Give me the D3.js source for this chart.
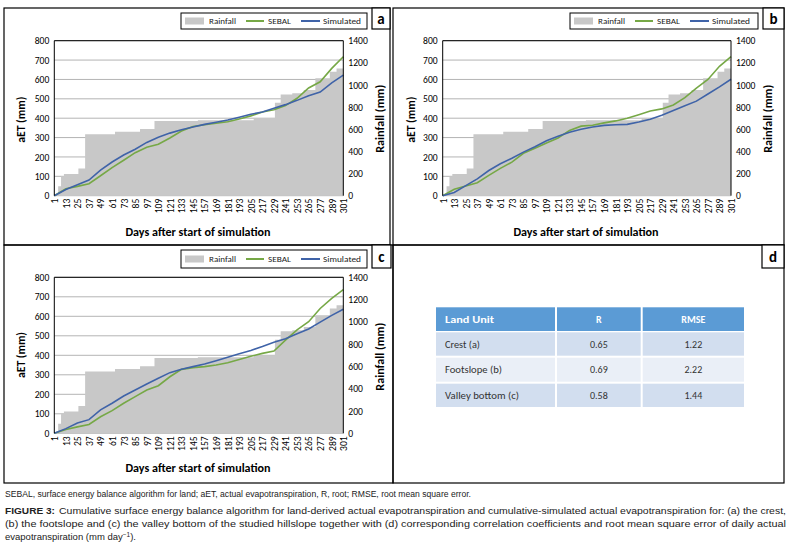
<!DOCTYPE html>
<html><head><meta charset="utf-8">
<script src="https://cdn.jsdelivr.net/npm/d3@7/dist/d3.min.js"></script>
<style>body{margin:0;background:#fff} svg{display:block}</style>
</head><body><svg id="fig" width="792" height="547"></svg>
<script>
// ---------- data ----------
const dayTicks = [1,13,25,37,49,61,73,85,97,109,121,133,145,157,169,181,193,205,217,229,241,253,265,277,289,301];
const sampleDays = dayTicks;
const aetTicks = [0,100,200,300,400,500,600,700,800];
const rainTicks = [0,200,400,600,800,1000,1200,1400];

// cumulative rainfall (mm), step changes: day -> cumulative total from that day
const rainDays = [1,5,8,11,26,33,64,90,105,150,208,230,236,248,260,272,287,294,301];
const rainCum  = [0,85,175,195,245,555,578,602,675,682,700,840,915,925,955,1060,1120,1150,1150];

// cumulative aET (mm) at sampleDays
const sebalA = [0,36,48,62,103,145,183,222,250,266,298,334,357,366,374,382,396,412,432,444,465,503,556,588,657,717];
const simA   = [0,32,57,81,132,174,210,240,275,302,323,340,355,368,379,391,405,420,432,451,470,492,516,535,582,622];
const sebalB = [0,33,50,67,105,141,173,219,245,272,298,337,359,364,376,386,400,418,437,448,468,506,555,600,668,718];
const simB   = [0,17,52,87,130,165,193,225,253,284,307,328,343,355,363,366,368,380,395,415,440,464,488,525,562,601];
const sebalC = [0,20,33,45,85,116,154,188,222,244,290,328,337,342,350,362,378,395,410,422,478,530,572,640,692,737];
const simC   = [0,24,53,70,120,154,191,222,253,282,311,328,342,355,372,390,408,425,445,467,485,510,535,570,605,636];

const legendLabels = ["Rainfall","SEBAL","Simulated"];
const tableHeader = ["Land Unit","R","RMSE"];
const landUnits = ["Crest (a)","Footslope (b)","Valley bottom (c)"];
const rValues = ["0.65","0.69","0.58"];
const rmseValues = ["1.22","2.22","1.44"];

// ---------- drawing ----------
const svg = d3.select("#fig");
svg.append("rect").attr("width",792).attr("height",547).attr("fill","#fff");
const FONT = "Carlito, Calibri, 'Liberation Sans', Arial, sans-serif";
const GRAY = "#c8c8c8", GREEN = "#76a846", BLUE = "#3f63a8";

function fit(sel, w){ sel.attr("textLength", w).attr("lengthAdjust","spacingAndGlyphs"); return sel; }

const panels = [
  {id:"a", box:[4,8,390,245], plot:[54.3,343.3,40.7,195.7], leg:[181,13,367,29], lab:[372,8,390,29],
   yT:[21,119.7], y2T:[380,118.8], xT:[198,236], sebal:sebalA, sim:simA},
  {id:"b", box:[393,8,784,245], plot:[442.7,731,40.7,195.7], leg:[570,13,758,29], lab:[763,8,784,29],
   yT:[411,119.7], y2T:[767.7,118.8], xT:[586,236], sebal:sebalB, sim:simB},
  {id:"c", box:[4,245,393,483], plot:[54.3,343.3,277.3,433.3], leg:[181,250,367,268], lab:[372,245,391,268],
   yT:[21,355], y2T:[380,356.7], xT:[198,472], sebal:sebalC, sim:simC}
];

const rainData = rainDays.map((d,i)=>({day:d, v:rainCum[i]}));

panels.forEach(p=>{
  const g = svg.append("g");
  const [pl,pr,pt,pb] = p.plot;
  g.append("rect").attr("x",p.box[0]).attr("y",p.box[1]).attr("width",p.box[2]-p.box[0]).attr("height",p.box[3]-p.box[1])
    .attr("fill","none").attr("stroke","#000").attr("stroke-width",1.2);

  const x = d3.scaleLinear().domain([1,301]).range([pl,pr]);
  const y = d3.scaleLinear().domain([0,800]).range([pb,pt]);
  const y2 = d3.scaleLinear().domain([0,1400]).range([pb,pt]);

  // gridlines
  g.append("g").selectAll("line").data(aetTicks).join("line")
    .attr("x1",pl).attr("x2",pr).attr("y1",d=>y(d)).attr("y2",d=>y(d))
    .attr("stroke","#b4b4b4").attr("stroke-width",1);

  // rainfall area
  g.append("path").datum(rainData)
    .attr("d", d3.area().x(d=>x(d.day)).y0(pb).y1(d=>y2(d.v)).curve(d3.curveStepAfter))
    .attr("fill",GRAY);

  // lines
  const line = d3.line().x((d,i)=>x(sampleDays[i])).y(d=>y(d));
  g.append("path").datum(p.sebal).attr("d",line).attr("fill","none").attr("stroke",GREEN).attr("stroke-width",1.6);
  g.append("path").datum(p.sim).attr("d",line).attr("fill","none").attr("stroke",BLUE).attr("stroke-width",1.6);

  // frame lines
  g.append("line").attr("x1",pl).attr("x2",pr).attr("y1",pt).attr("y2",pt).attr("stroke","#000").attr("stroke-width",1);
  g.append("line").attr("x1",pl).attr("x2",pl).attr("y1",pt).attr("y2",pb).attr("stroke","#000").attr("stroke-width",1);
  g.append("line").attr("x1",pr).attr("x2",pr).attr("y1",pt).attr("y2",pb).attr("stroke","#000").attr("stroke-width",1);

  // axes
  const ax = g.append("g").attr("transform",`translate(${pl},0)`)
    .call(d3.axisLeft(y).tickValues(aetTicks).tickSize(0).tickPadding(5).tickFormat(d3.format("d")));
  const ax2 = g.append("g").attr("transform",`translate(${pr},0)`)
    .call(d3.axisRight(y2).tickValues(rainTicks).tickSize(0).tickPadding(5).tickFormat(d3.format("d")));
  const axX = g.append("g").attr("transform",`translate(0,${pb})`)
    .call(d3.axisBottom(x).tickValues(dayTicks).tickSize(0).tickFormat(d3.format("d")));
  [ax,ax2,axX].forEach(a=>{a.select(".domain").remove(); a.selectAll("text").attr("font-family",FONT).attr("font-size",9.6).attr("fill","#000");});
  axX.selectAll("text").attr("y",0).attr("x",-3).attr("dy","0.35em").attr("transform","rotate(-90)").style("text-anchor","end");

  // axis titles
  fit(g.append("text").attr("transform",`translate(${p.yT[0]},${p.yT[1]}) rotate(-90)`).attr("text-anchor","middle")
    .attr("dominant-baseline","central").attr("font-family",FONT).attr("font-weight","bold").attr("font-size",12).text("aET (mm)"),46);
  fit(g.append("text").attr("transform",`translate(${p.y2T[0]},${p.y2T[1]}) rotate(-90)`).attr("text-anchor","middle")
    .attr("dominant-baseline","central").attr("font-family",FONT).attr("font-weight","bold").attr("font-size",12).text("Rainfall (mm)"),68);
  fit(g.append("text").attr("x",p.xT[0]).attr("y",p.xT[1]).attr("text-anchor","middle")
    .attr("font-family",FONT).attr("font-weight","bold").attr("font-size",12).text("Days after start of simulation"),145);

  // legend
  const [lx0,ly0,lx1,ly1] = p.leg; const lc = (ly0+ly1)/2;
  g.append("rect").attr("x",lx0).attr("y",ly0).attr("width",lx1-lx0).attr("height",ly1-ly0).attr("fill","#fff").attr("stroke","#000").attr("stroke-width",1);
  g.append("rect").attr("x",lx0+4).attr("y",lc-3.5).attr("width",19).attr("height",7).attr("fill",GRAY);
  g.append("line").attr("x1",lx0+65).attr("x2",lx0+83).attr("y1",lc).attr("y2",lc).attr("stroke",GREEN).attr("stroke-width",2);
  g.append("line").attr("x1",lx0+120).attr("x2",lx0+139).attr("y1",lc).attr("y2",lc).attr("stroke",BLUE).attr("stroke-width",2);
  const lt = [[lx0+28,27],[lx0+87,23],[lx0+142,38]];
  legendLabels.forEach((t,i)=>{
    fit(g.append("text").attr("x",lt[i][0]).attr("y",lc+3).attr("font-family",FONT).attr("font-size",8.5).attr("fill","#222").text(t), lt[i][1]);
  });

  // panel letter box
  const [bx0,by0,bx1,by1] = p.lab;
  g.append("rect").attr("x",bx0).attr("y",by0).attr("width",bx1-bx0).attr("height",by1-by0).attr("fill","#fff").attr("stroke","#000").attr("stroke-width",1.2);
  g.append("text").attr("x",(bx0+bx1)/2).attr("y",(by0+by1)/2+5).attr("text-anchor","middle").attr("font-family",FONT)
    .attr("font-weight","bold").attr("font-size",15).text(p.id);
});

// panel d
const gd = svg.append("g");
gd.append("rect").attr("x",393).attr("y",245).attr("width",391).attr("height",238).attr("fill","none").attr("stroke","#000").attr("stroke-width",1.2);
gd.append("rect").attr("x",762).attr("y",245).attr("width",22).attr("height",23).attr("fill","#fff").attr("stroke","#000").attr("stroke-width",1.2);
gd.append("text").attr("x",773).attr("y",261.5).attr("text-anchor","middle").attr("font-family",FONT).attr("font-weight","bold").attr("font-size",15).text("d");

const colX = [[436,555],[557,640.7],[642.7,744]];
const rowY = [[307.3,331],[332.3,355.7],[357.7,381.7],[383.7,407]];
const rowFill = ["#5b9bd5","#d2deef","#eaeff7","#d2deef"];
const tableRows = [tableHeader].concat(landUnits.map((u,i)=>[u,rValues[i],rmseValues[i]]));
const col1W = {"Land Unit":49,"Crest (a)":35,"Footslope (b)":57,"Valley bottom (c)":74};
tableRows.forEach((row,ri)=>{
  row.forEach((cell,ci)=>{
    const [x0,x1] = colX[ci], [y0,y1] = rowY[ri];
    gd.append("rect").attr("x",x0).attr("y",y0).attr("width",x1-x0).attr("height",y1-y0).attr("fill",rowFill[ri]);
    const t = gd.append("text").attr("y",(y0+y1)/2+3.5).attr("font-family",FONT).attr("font-size",10)
      .attr("fill", ri===0?"#fff":"#333").attr("font-weight", ri===0?"bold":"normal").text(cell);
    if(ci===0){ t.attr("x",x0+9); fit(t,col1W[cell]); }
    else { t.attr("x",(x0+x1)/2).attr("text-anchor","middle"); }
  });
});

// caption
const cap = svg.append("g").attr("font-family","'Liberation Sans Narrow', 'Liberation Sans', Arial, sans-serif").attr("fill","#222");
fit(cap.append("text").attr("x",5).attr("y",497).attr("font-size",8.5)
  .text("SEBAL, surface energy balance algorithm for land; aET, actual evapotranspiration, R, root; RMSE, root mean square error."),466);
fit(cap.append("text").attr("x",5).attr("y",514).attr("font-size",9.5).attr("font-weight","bold").text("FIGURE 3:"),50);
fit(cap.append("text").attr("x",59).attr("y",514).attr("font-size",9.5)
  .text("Cumulative surface energy balance algorithm for land-derived actual evapotranspiration and cumulative-simulated actual evapotranspiration for: (a) the crest,"),727);
fit(cap.append("text").attr("x",5).attr("y",527).attr("font-size",9.5)
  .text("(b) the footslope and (c) the valley bottom of the studied hillslope together with (d) corresponding correlation coefficients and root mean square error of daily actual"),781);
const l4 = cap.append("text").attr("x",5).attr("y",540).attr("font-size",9.5);
l4.append("tspan").text("evapotranspiration (mm day");
l4.append("tspan").attr("dy",-3).attr("font-size",6.5).text("−1");
l4.append("tspan").attr("dy",3).text(").");
</script></body></html>
